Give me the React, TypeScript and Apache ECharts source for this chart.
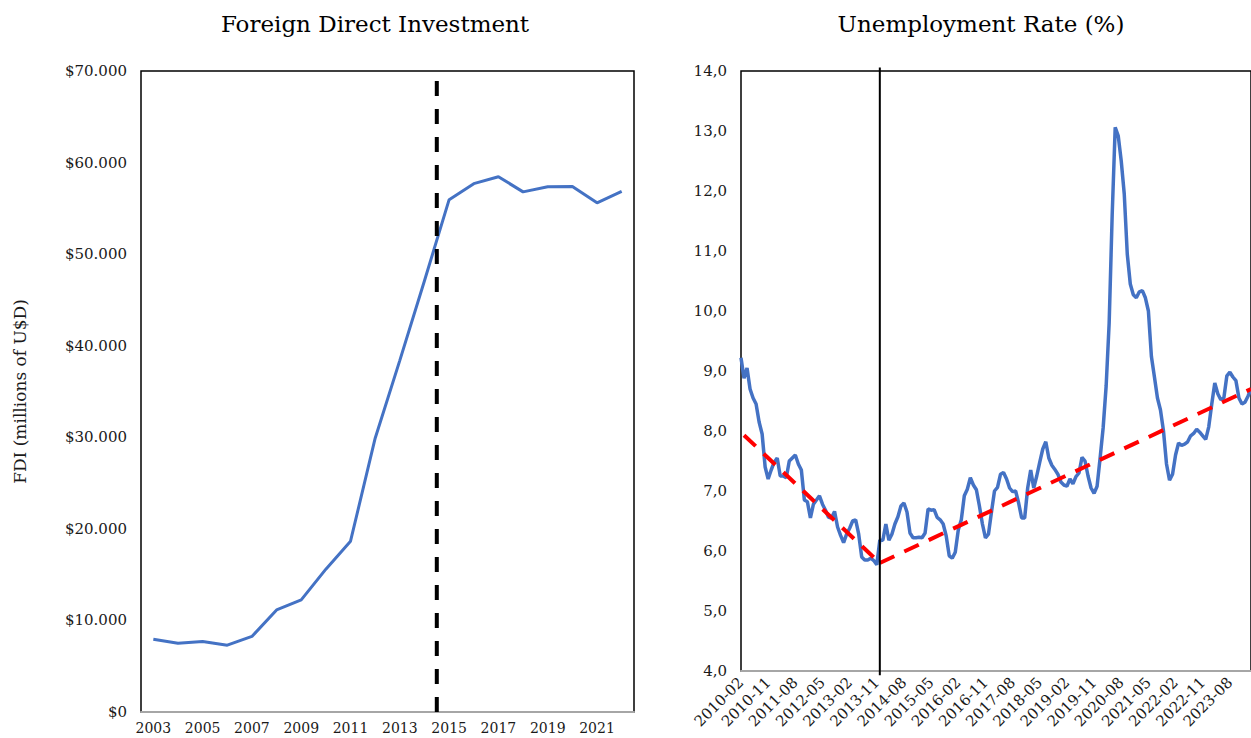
import React, { useEffect, useRef } from "react";
import * as echarts from "echarts";

const FONT = "DejaVu Serif";

const fdiYears = ["2003","2004","2005","2006","2007","2008","2009","2010","2011","2012","2013","2014","2015","2016","2017","2018","2019","2020","2021","2022"];
const fdiValues = [7950, 7500, 7700, 7300, 8250, 11150, 12250, 15600, 18650, 29900, 38400, 47100, 55950, 57700, 58450, 56800, 57350, 57400, 55600, 56850];
const fdiBreakPos = 11.5; // between 2014 and 2015
const fdiBreakTop = 69000;

const monthStartYear = 2010;
const monthStartMonth = 2;
const monthCount = 170;

const unempValues = [
  9.22, 8.88, 9.05, 8.70, 8.55, 8.45, 8.15, 7.95, 7.40, 7.20,
  7.35, 7.48, 7.55, 7.25, 7.25, 7.22, 7.50, 7.55, 7.60, 7.45,
  7.35, 6.85, 6.82, 6.55, 6.78, 6.85, 6.92, 6.78, 6.68, 6.56,
  6.55, 6.66, 6.40, 6.26, 6.14, 6.28, 6.38, 6.50, 6.52, 6.28,
  5.90, 5.85, 5.85, 5.88, 5.84, 5.77, 6.18, 6.18, 6.45, 6.18,
  6.28, 6.45, 6.57, 6.75, 6.80, 6.65, 6.30, 6.22, 6.22, 6.23,
  6.22, 6.30, 6.70, 6.68, 6.69, 6.56, 6.52, 6.45, 6.25, 5.92,
  5.88, 5.98, 6.35, 6.52, 6.92, 7.03, 7.22, 7.10, 7.02, 6.75,
  6.45, 6.22, 6.28, 6.65, 7.00, 7.06, 7.28, 7.31, 7.20, 7.05,
  6.99, 7.00, 6.80, 6.55, 6.55, 7.05, 7.35, 7.05, 7.25, 7.48,
  7.70, 7.82, 7.55, 7.43, 7.36, 7.28, 7.15, 7.10, 7.08, 7.20,
  7.12, 7.24, 7.30, 7.56, 7.50, 7.25, 7.05, 6.96, 7.08, 7.55,
  8.05, 8.75, 9.80, 11.60, 13.06, 12.92, 12.50, 11.95, 10.95, 10.45,
  10.27, 10.22, 10.32, 10.34, 10.22, 10.00, 9.24, 8.90, 8.55, 8.35,
  8.00, 7.45, 7.18, 7.28, 7.60, 7.80, 7.76, 7.78, 7.82, 7.92,
  7.96, 8.03, 7.98, 7.92, 7.86, 8.07, 8.45, 8.80, 8.62, 8.52,
  8.55, 8.92, 8.98, 8.90, 8.84, 8.55, 8.45, 8.48, 8.58, 8.70,
];

const breakIndex = 46; // 2013-12
const trendPre = [[1, 7.93], [46, 5.8]];
const trendPost = [[46, 5.8], [169, 8.7]];
const breakLineSpan = [3.93, 14.06];

function buildMonths(): string[] {
  const out: string[] = [];
  let y = monthStartYear;
  let m = monthStartMonth;
  for (let i = 0; i < monthCount; i++) {
    out.push(`${y}-${m < 10 ? "0" + m : m}`);
    m++;
    if (m > 12) { m = 1; y++; }
  }
  return out;
}

const dotThousands = (v: number) => {
  const s = Math.round(v).toString();
  return s.replace(/\B(?=(\d{3})+(?!\d))/g, ".");
};

export default function App() {
  const ref = useRef<HTMLDivElement>(null);
  useEffect(() => {
    if (!ref.current) return;
    const chart = echarts.init(ref.current, undefined, { renderer: "svg" });
    const months = buildMonths();
    const txt = { fontFamily: FONT, color: "#1a1a1a" };
    chart.setOption({
      animation: false,
      backgroundColor: "#ffffff",
      title: [
        { text: "Foreign Direct Investment", left: 370, top: 7, textAlign: "center",
          textStyle: { ...txt, fontSize: 23, fontWeight: "normal", color: "#000" } },
        { text: "Unemployment Rate (%)", left: 976, top: 7, textAlign: "center",
          textStyle: { ...txt, fontSize: 23, fontWeight: "normal", color: "#000" } },
      ],
      grid: [
        { left: 141, top: 71, width: 493, height: 641, show: true, borderColor: "#000", borderWidth: 1.5, backgroundColor: "transparent" },
        { left: 741, top: 71, width: 511, height: 600, show: true, borderColor: "#000", borderWidth: 1.5, backgroundColor: "transparent" },
      ],
      xAxis: [
        { type: "category", gridIndex: 0, data: fdiYears, boundaryGap: true,
          axisLine: { show: true, lineStyle: { color: "#a6a6a6", width: 2 } },
          axisTick: { show: false },
          axisLabel: { ...txt, fontSize: 14, interval: 1, margin: 9 },
          splitLine: { show: false } },
        { type: "value", gridIndex: 0, min: -0.5, max: 19.5, show: false },
        { type: "category", gridIndex: 1, data: months, boundaryGap: false,
          axisLine: { show: true, lineStyle: { color: "#a6a6a6", width: 2 } },
          axisTick: { show: false },
          axisLabel: { ...txt, fontSize: 15, interval: 8, rotate: 45, margin: 9 },
          splitLine: { show: false } },
      ],
      yAxis: [
        { type: "value", gridIndex: 0, min: 0, max: 70000, interval: 10000,
          axisLine: { show: false }, axisTick: { show: false }, splitLine: { show: false },
          axisLabel: { ...txt, fontSize: 15, margin: 14, formatter: (v: number) => "$" + dotThousands(v) },
          name: "FDI (millions of U$D)", nameLocation: "middle", nameGap: 113,
          nameTextStyle: { ...txt, fontSize: 17 } },
        { type: "value", gridIndex: 1, min: 4, max: 14, interval: 1,
          axisLine: { show: false }, axisTick: { show: false }, splitLine: { show: false },
          axisLabel: { ...txt, fontSize: 15, margin: 14, formatter: (v: number) => v.toFixed(1).replace(".", ",") } },
      ],
      series: [
        { type: "line", xAxisIndex: 0, yAxisIndex: 0, data: fdiValues, symbol: "none",
          lineStyle: { color: "#4472C4", width: 3 }, itemStyle: { color: "#4472C4" } },
        { type: "line", xAxisIndex: 1, yAxisIndex: 0,
          data: [[fdiBreakPos, 0], [fdiBreakPos, fdiBreakTop]], symbol: "none",
          lineStyle: { color: "#000", width: 4, type: [15, 13] } },
        { type: "line", xAxisIndex: 2, yAxisIndex: 1, data: unempValues, symbol: "none",
          lineStyle: { color: "#4472C4", width: 3.5 }, itemStyle: { color: "#4472C4" } },
        { type: "line", xAxisIndex: 2, yAxisIndex: 1, data: trendPre, symbol: "none",
          lineStyle: { color: "#ff0000", width: 4, type: [16, 11] } },
        { type: "line", xAxisIndex: 2, yAxisIndex: 1, data: trendPost, symbol: "none",
          lineStyle: { color: "#ff0000", width: 4, type: [16, 11] } },
        { type: "line", xAxisIndex: 2, yAxisIndex: 1, clip: false,
          data: [[breakIndex, breakLineSpan[0]], [breakIndex, breakLineSpan[1]]], symbol: "none",
          lineStyle: { color: "#000", width: 2 } },
      ],
    });
    return () => chart.dispose();
  }, []);
  return (
    <div
      ref={ref}
      style={{ position: "absolute", left: 0, top: 0, width: 1251, height: 738 }}
    />
  );
}
